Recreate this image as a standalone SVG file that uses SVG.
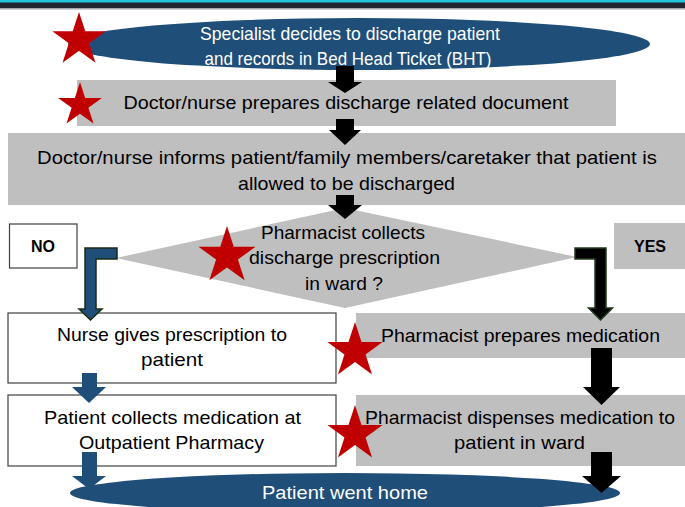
<svg xmlns="http://www.w3.org/2000/svg" xmlns:xlink="http://www.w3.org/1999/xlink" width="685" height="507" viewBox="0 0 685 507">
  <style>
    .txt { font-family: "Liberation Sans", Arial, sans-serif; font-size: 19px; fill: #000; text-anchor: middle; }
    .light { fill: #ffffff; }
    .bold { font-weight: bold; font-size: 16px; }
    .gray { fill: #bfbfbf; }
    .plain { fill: #ffffff; stroke: #404040; stroke-width: 1.2; }
    .oval { fill: #1f4e79; }
    .star { fill: #c00000; }
    .blk { fill: #000000; }
    .blu { fill: #1f4e79; }
    .bent-no { fill: #1f4e79; stroke: #1c2b12; stroke-width: 1.5; }
    .bent-yes { fill: #000000; stroke: #23391a; stroke-width: 1.5; }
  </style>
  <defs>
    <!-- unit five-point star, outer radius 1 -->
    <path id="star" d="M0,-1 L0.2245,-0.309 L0.951,-0.309 L0.3633,0.118 L0.588,0.809 L0,0.382 L-0.588,0.809 L-0.3633,0.118 L-0.951,-0.309 L-0.2245,-0.309 Z"/>
  </defs>

  <rect width="685" height="507" fill="#ffffff"/>

  <!-- header band -->
  <rect x="0" y="0" width="685" height="3" fill="#22c6dc"/>
  <rect x="0" y="2.5" width="685" height="6" fill="#1f2631"/>
  <rect x="0" y="8.5" width="685" height="1.2" fill="#b8bcc2"/>

  <!-- nodes -->
  <g id="start">
    <ellipse class="oval" cx="359" cy="44" rx="291" ry="26"/>
    <text class="txt light" x="350" y="40" textLength="300" lengthAdjust="spacingAndGlyphs">Specialist decides to discharge patient</text>
    <text class="txt light" x="348" y="65" textLength="287" lengthAdjust="spacingAndGlyphs">and records in Bed Head Ticket (BHT)</text>
  </g>

  <g id="prepare-docs">
    <rect class="gray" x="77" y="80" width="539" height="46"/>
    <text class="txt" x="346" y="109" textLength="445" lengthAdjust="spacingAndGlyphs">Doctor/nurse prepares discharge related document</text>
  </g>

  <g id="inform">
    <rect class="gray" x="8" y="133" width="677" height="72"/>
    <text class="txt" x="347" y="164" textLength="620" lengthAdjust="spacingAndGlyphs">Doctor/nurse informs patient/family members/caretaker that patient is</text>
    <text class="txt" x="346.5" y="190" textLength="217" lengthAdjust="spacingAndGlyphs">allowed to be discharged</text>
  </g>

  <g id="decision">
    <polygon class="gray" points="345,208 577,257 345,308 116,258"/>
    <text class="txt" x="343" y="239" textLength="164" lengthAdjust="spacingAndGlyphs">Pharmacist collects</text>
    <text class="txt" x="344.5" y="264" textLength="191" lengthAdjust="spacingAndGlyphs">discharge prescription</text>
    <text class="txt" x="344" y="290" textLength="78" lengthAdjust="spacingAndGlyphs">in ward ?</text>
  </g>

  <g id="label-no">
    <rect class="plain" x="9.5" y="224" width="67.5" height="44"/>
    <text class="txt bold" x="43" y="252">NO</text>
  </g>

  <g id="label-yes">
    <rect class="gray" x="614" y="223" width="71" height="46"/>
    <text class="txt bold" x="650" y="252">YES</text>
  </g>

  <g id="nurse-gives">
    <rect class="plain" x="8" y="313" width="328" height="70"/>
    <text class="txt" x="172" y="341" textLength="230" lengthAdjust="spacingAndGlyphs">Nurse gives prescription to</text>
    <text class="txt" x="172" y="366" textLength="62" lengthAdjust="spacingAndGlyphs">patient</text>
  </g>

  <g id="pharm-prepares">
    <rect class="gray" x="356" y="313" width="329" height="45"/>
    <text class="txt" x="520.5" y="342" textLength="279" lengthAdjust="spacingAndGlyphs">Pharmacist prepares medication</text>
  </g>

  <g id="patient-collects">
    <rect class="plain" x="8" y="395" width="328" height="71"/>
    <text class="txt" x="172.5" y="424" textLength="257" lengthAdjust="spacingAndGlyphs">Patient collects medication at</text>
    <text class="txt" x="171.5" y="449" textLength="185" lengthAdjust="spacingAndGlyphs">Outpatient Pharmacy</text>
  </g>

  <g id="pharm-dispenses">
    <rect class="gray" x="356" y="395" width="329" height="71"/>
    <text class="txt" x="520" y="424" textLength="310" lengthAdjust="spacingAndGlyphs">Pharmacist dispenses medication to</text>
    <text class="txt" x="519.5" y="449" textLength="131" lengthAdjust="spacingAndGlyphs">patient in ward</text>
  </g>

  <g id="end">
    <ellipse class="oval" cx="345" cy="493" rx="275" ry="20"/>
    <text class="txt light" x="345" y="499" textLength="166" lengthAdjust="spacingAndGlyphs">Patient went home</text>
  </g>

  <!-- connectors -->
  <g id="connectors">
    <polygon class="blk" points="336,66 354,66 354,82 362,82 345,93 328,82 336,82"/>
    <polygon class="blk" points="336,119 354,119 354,130 361,130 345,145 329,130 336,130"/>
    <polygon class="blk" points="336,195 354,195 354,205 362,205 345,219 328,205 336,205"/>
    <path class="bent-no" d="M117,248 L117,259 L96,259 L96,309 L102,309 L90.5,320 L79,309 L85,309 L85,248 Z"/>
    <path class="bent-yes" d="M575,248 L606,248 L606,308 L612.5,308 L600.5,320 L588.5,308 L595,308 L595,259 L575,259 Z"/>
    <polygon class="blu" points="82,373 97,373 97,387 106,387 89,403 72,387 82,387"/>
    <polygon class="blu" points="82,452 97,452 97,476 106,476 89,489 72,476 82,476"/>
    <polygon class="blk" points="591,348 612,348 612,387 620,387 601.5,405 583,387 591,387"/>
    <polygon class="blk" points="591,452 612,452 612,476 621,476 601.5,493 582,476 591,476"/>
  </g>

  <!-- markers for pharmacist-led steps -->
  <g id="stars">
    <use class="star" xlink:href="#star" transform="translate(79,40) scale(28)"/>
    <use class="star" xlink:href="#star" transform="translate(80,105) scale(23)"/>
    <use class="star" xlink:href="#star" transform="translate(227,256) scale(30)"/>
    <use class="star" xlink:href="#star" transform="translate(355,351) scale(29)"/>
    <use class="star" xlink:href="#star" transform="translate(355,434) scale(29)"/>
  </g>
</svg>
